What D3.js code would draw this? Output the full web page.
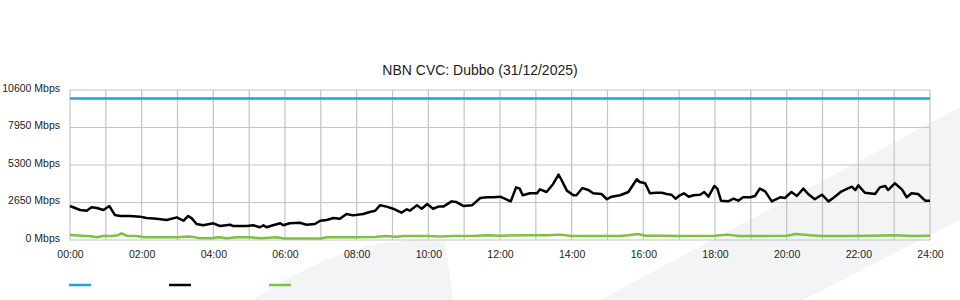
<!DOCTYPE html>
<html>
<head>
<meta charset="utf-8">
<script src="https://cdn.jsdelivr.net/npm/d3@7"></script>
<style>
  html, body { margin: 0; padding: 0; background: #fff; }
  svg { display: block; font-family: "Liberation Sans", Arial, sans-serif; }
</style>
</head>
<body>
<svg id="chart" width="960" height="300"></svg>
<script>
// ---- data ----
const chartTitle = "NBN CVC: Dubbo (31/12/2025)";
const yTickValues = [0, 2650, 5300, 7950, 10600];
const yTickLabels = ["0 Mbps", "2650 Mbps", "5300 Mbps", "7950 Mbps", "10600 Mbps"];
const xTickMinutes = [0, 120, 240, 360, 480, 600, 720, 840, 960, 1080, 1200, 1320, 1440];
const xTickLabels = ["00:00","02:00","04:00","06:00","08:00","10:00","12:00","14:00","16:00","18:00","20:00","22:00","24:00"];

const capacityMinutes = [0, 1440];
const capacityMbps = [10000, 10000];

const trafficMinutes = [0,17,28,36,45,56,66,75,84,100,117,128,145,162,179,190,198,204,212,223,240,251,268,273,296,307,318,324,329,340,352,357,368,385,396,410,419,430,441,452,463,474,491,502,511,519,530,541,555,564,569,581,589,598,608,617,625,639,647,659,673,687,698,709,720,728,738,747,753,758,770,782,787,798,809,818,823,832,843,848,858,868,876,890,899,907,921,935,949,954,963,971,982,991,999,1007,1014,1021,1028,1036,1044,1055,1062,1069,1079,1084,1090,1102,1111,1119,1127,1139,1147,1155,1164,1175,1189,1197,1208,1217,1228,1236,1247,1259,1270,1278,1292,1309,1315,1320,1331,1348,1356,1365,1370,1381,1393,1401,1409,1420,1432,1440];
const trafficMbps = [2400,2120,2070,2310,2260,2120,2400,1770,1700,1700,1650,1550,1500,1410,1600,1360,1700,1530,1130,1040,1180,990,1080,990,990,1040,900,1040,900,1040,1180,1040,1180,1220,1080,1130,1360,1410,1550,1500,1840,1740,1840,1980,2070,2450,2360,2210,1930,2170,2070,2450,2210,2540,2210,2360,2360,2730,2680,2400,2450,2970,3020,3020,3060,2920,2730,3720,3630,3160,3300,3300,3580,3390,3960,4620,4240,3490,3160,3160,3670,3530,3300,3250,2880,3060,3160,3390,4290,4100,4010,3300,3340,3340,3250,3200,2920,3160,3300,3060,3160,3200,3390,3060,3820,3630,2780,2730,2920,2780,3020,3020,3110,3630,3440,2730,3020,2970,3390,3110,3630,3250,2880,3200,2730,2970,3440,3770,3530,3860,3340,3250,3720,3820,3530,4010,3580,3020,3300,3250,2780,2780];

const uploadMinutes = [0,20,35,45,55,70,80,86,95,110,125,150,180,200,215,235,250,262,280,300,320,345,360,380,420,430,450,480,510,530,545,560,600,620,640,680,700,720,760,800,820,840,880,920,935,950,965,990,1020,1080,1100,1120,1160,1200,1215,1240,1260,1300,1340,1380,1410,1440];
const uploadMbps = [350,300,260,190,280,280,330,470,300,280,200,190,190,240,150,120,200,130,190,190,120,190,110,110,110,190,200,200,220,280,230,280,280,240,280,300,330,300,330,330,380,280,280,280,330,420,300,300,280,300,380,280,280,300,420,330,280,280,300,330,280,300];

const seriesColors = ["#1ea3e0", "#000000", "#7dc13f"];

// ---- drawing ----
const svg = d3.select("#chart");

// background watermark shapes
svg.append("path")
  .attr("d", "M600,300 L960,107 L960,220 L803,300 Z")
  .attr("fill", "#f3f4f6");
svg.append("path")
  .attr("d", "M253,300 C280,282 330,252 383,243 C410,240 440,240 445,242 L453,300 Z")
  .attr("fill", "#f3f4f6");

const x = d3.scaleLinear().domain([0, 1440]).range([70, 930]);
const y = d3.scaleLinear().domain([0, 10600]).range([240, 90]);

// grid
const grid = svg.append("g");
grid.selectAll("line.v").data(d3.range(0, 1441, 60)).join("line")
  .attr("x1", d => x(d)).attr("x2", d => x(d))
  .attr("y1", y(10600)).attr("y2", y(0))
  .attr("stroke", "#c4c4c4").attr("stroke-width", 1.2);
grid.selectAll("line.h").data(yTickValues).join("line")
  .attr("x1", x(0)).attr("x2", x(1440))
  .attr("y1", d => y(d)).attr("y2", d => y(d))
  .attr("stroke", "#c4c4c4").attr("stroke-width", 1.2);

// axes labels
const xAxis = d3.axisBottom(x).tickValues(xTickMinutes)
  .tickFormat((d, i) => xTickLabels[i]).tickSize(0).tickPadding(0);
const gx = svg.append("g").attr("transform", "translate(0,251)").call(xAxis);
gx.select(".domain").remove();
gx.selectAll("text").attr("font-size", 10.5).attr("fill", "#222")
  .attr("font-family", "Liberation Sans, Arial, sans-serif");

const yAxis = d3.axisLeft(y).tickValues(yTickValues)
  .tickFormat((d, i) => yTickLabels[i]).tickSize(0).tickPadding(0);
const gy = svg.append("g").attr("transform", "translate(60,-2)").call(yAxis);
gy.select(".domain").remove();
gy.selectAll("text").attr("font-size", 10.5).attr("fill", "#222")
  .attr("font-family", "Liberation Sans, Arial, sans-serif");

// title
svg.append("text").attr("x", 480).attr("y", 75).attr("text-anchor", "middle")
  .attr("font-size", 14).attr("fill", "#222").text(chartTitle);

// lines
const line = d3.line().x(d => x(d[0])).y(d => y(d[1]));
const series = [
  d3.zip(capacityMinutes, capacityMbps),
  d3.zip(trafficMinutes, trafficMbps),
  d3.zip(uploadMinutes, uploadMbps)
];
[2, 1, 0].forEach(i => {
  svg.append("path").datum(series[i])
    .attr("d", line)
    .attr("fill", "none")
    .attr("stroke", seriesColors[i])
    .attr("stroke-width", 2.5)
    .attr("stroke-linejoin", "round");
});

// legend swatches
const legendX = [69, 169, 269];
svg.selectAll("line.leg").data(seriesColors).join("line")
  .attr("x1", (d, i) => legendX[i]).attr("x2", (d, i) => legendX[i] + 22)
  .attr("y1", 285).attr("y2", 285)
  .attr("stroke", d => d).attr("stroke-width", 2.5);
</script>
</body>
</html>
